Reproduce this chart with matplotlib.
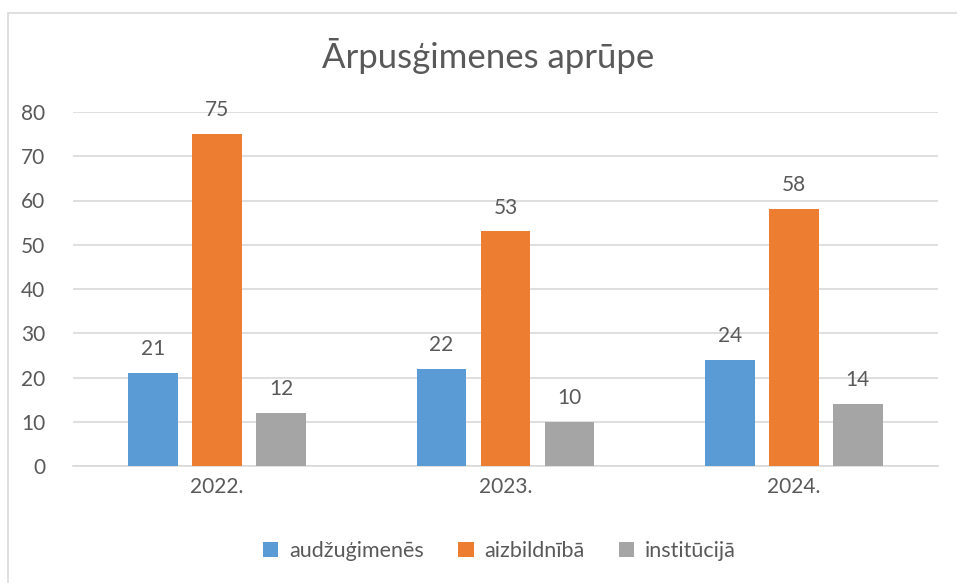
import matplotlib.pyplot as plt
import numpy as np
from matplotlib.patches import Rectangle

years = ["2022.", "2023.", "2024."]
series_names = ["audžuģimenēs", "aizbildnībā", "institūcijā"]
audzugimenes = [21, 22, 24]
aizbildniba = [75, 53, 58]
institucija = [12, 10, 14]
colors = ["#5B9BD5", "#ED7D31", "#A5A5A5"]

text_color = "#595959"
plt.rcParams["font.family"] = ["Lato", "DejaVu Sans"]

fig = plt.figure(figsize=(9.57, 5.83), dpi=100)
ax = fig.add_axes([73 / 957, 1 - 466 / 583, (938 - 73) / 957, (466 - 112) / 583])

x = np.arange(len(years))
width = 0.173
step = 0.222
for i, (vals, name) in enumerate(zip([audzugimenes, aizbildniba, institucija], series_names)):
    bars = ax.bar(x + (i - 1) * step, vals, width, color=colors[i], label=name, zorder=3)
    ax.bar_label(bars, padding=10, fontsize=15, color=text_color)

ax.set_xlim(-0.5, 2.5)
ax.set_ylim(0, 80)
ax.set_yticks(range(0, 81, 10))
ax.set_xticks(x)
ax.set_xticklabels(years)
ax.yaxis.grid(True, color="#D9D9D9", linewidth=1.2, zorder=0)
for s in ["top", "right", "left"]:
    ax.spines[s].set_visible(False)
ax.spines["bottom"].set_color("#D9D9D9")
ax.spines["bottom"].set_linewidth(1.2)
ax.tick_params(axis="both", length=0, labelsize=15, colors=text_color)
ax.tick_params(axis="y", pad=20)
ax.tick_params(axis="x", pad=8)

fig.text(0.510, 1 - 56 / 583, "Ārpusģimenes aprūpe", ha="center", va="center",
         fontsize=25, color=text_color)

fig.legend(loc="center", bbox_to_anchor=(0.522, 1 - 551 / 583), ncol=3, frameon=False,
           fontsize=15.5, labelcolor=text_color, handlelength=0.7, handleheight=0.7,
           handletextpad=0.5, columnspacing=1.6)

fig.patches.append(Rectangle((8 / 957, -0.1), 1.1, 1 - 13 / 583 + 0.1, transform=fig.transFigure,
                             fill=False, edgecolor="#D9D9D9", linewidth=1.2))

fig.savefig("out.png", dpi=100)
